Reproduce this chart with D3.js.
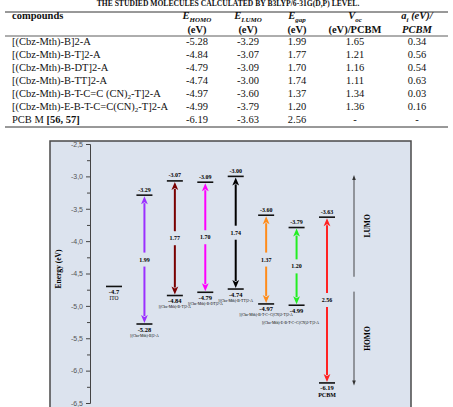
<!DOCTYPE html>
<html>
<head>
<meta charset="utf-8">
<script src="https://cdn.jsdelivr.net/npm/d3@7"></script>
<style>
  body { margin: 0; background: #fff; }
  svg { display: block; }
  .serif { font-family: "Liberation Serif", "DejaVu Serif", serif; }
</style>
</head>
<body>
<div class="wrap"></div>
<script>
// table rows
const tableNames = ['[(Cbz-Mth)-B]2-A', '[(Cbz-Mth)-B-T]2-A', '[(Cbz-Mth)-B-DT]2-A', '[(Cbz-Mth)-B-TT]2-A',
  '[(Cbz-Mth)-B-T-C=C (CN)|2|-T]2-A', '[(Cbz-Mth)-E-B-T-C=C(CN)|2|-T]2-A', 'PCB M']
const homo = [-5.28, -4.84, -4.79, -4.74, -4.97, -4.99, -6.19]
const lumo = [-3.29, -3.07, -3.09, -3.00, -3.60, -3.79, -3.63]
const gap = [1.99, 1.77, 1.70, 1.74, 1.37, 1.20, 2.56]
const voc = ['1.65', '1.21', '1.16', '1.11', '1.34', '1.36', '-']
const ai = ['0.34', '0.56', '0.54', '0.63', '0.03', '0.16', '-']

// chart
const chartNames = ['[(Cbz-Mth)-B]2-A', '[(Cbz-Mth)-B-T]2-A', '[(Cbz-Mth)-B-DT]2-A', '[(Cbz-Mth)-B-TT]2-A',
  '[(Cbz-Mth)-B-T-C=C(CN)2-T]2-A', '[(Cbz-Mth)-E-B-T-C=C(CN)2-T]2-A', 'PCBM']
const arrowColors = ['#9b30ff', '#7a0000', '#ff00ff', '#000000', '#ff8c1a', '#22ee22', '#ff2222']
const ito = -4.7
const yTicks = [-2.5, -3.0, -3.5, -4.0, -4.5, -5.0, -5.5, -6.0, -6.5]
const yMinor = [-2.75, -3.25, -3.75, -4.25, -4.75, -5.25, -5.75, -6.25]

const width = 453, height = 407

const svg = d3.select('.wrap').append('svg')
  .attr('width', width)
  .attr('height', height)

// ---------- table ----------
const tbl = svg.append('g').attr('class', 'serif').attr('fill', '#111')

tbl.append('text')
  .attr('x', 228).attr('y', 6)
  .attr('text-anchor', 'middle')
  .attr('font-size', 7.6).attr('font-weight', 'bold')
  .text('THE STUDIED MOLECULES CALCULATED BY B3LYP/6-31G(D,P) LEVEL.')

const rules = [12, 36, 127]
tbl.selectAll('.rule').data(rules).enter().append('line')
  .attr('x1', 5).attr('x2', 448)
  .attr('y1', d => d).attr('y2', d => d)
  .attr('stroke', '#333').attr('stroke-width', d => d == 36 ? 0.8 : 1)

const colX = [197, 248, 297, 355, 417]
const fs = 10.5

tbl.append('text').attr('x', 12).attr('y', 19)
  .attr('font-size', fs).attr('font-weight', 'bold').text('compounds')

const head = (x, main, sub, tail, line2, italic2) => {
  let t = tbl.append('text').attr('x', x).attr('y', 19).attr('text-anchor', 'middle')
    .attr('font-size', fs).attr('font-weight', 'bold').attr('font-style', 'italic')
  t.append('tspan').text(main)
  t.append('tspan').attr('font-size', 7).attr('dy', 2.5).text(sub)
  if (tail) t.append('tspan').attr('dy', -2.5).text(tail)
  tbl.append('text').attr('x', x).attr('y', 32.5).attr('text-anchor', 'middle')
    .attr('font-size', fs).attr('font-weight', 'bold')
    .attr('font-style', italic2 ? 'italic' : 'normal').text(line2)
}
head(colX[0], 'E', 'HOMO', null, '(eV)')
head(colX[1], 'E', 'LUMO', null, '(eV)')
head(colX[2], 'E', 'gap', null, '(eV)')
head(colX[3], 'V', 'oc', null, '(eV)/PCBM')
head(colX[4], 'a', 'i', ' (eV)/', 'PCBM', true)

const rowY = d3.scaleLinear().domain([0, 6]).range([44.5, 122.5])

tableNames.forEach((n, i) => {
  let t = tbl.append('text').attr('x', 12).attr('y', rowY(i)).attr('font-size', fs)
  n.split('|').forEach((part, k) => {
    if (k == 1) t.append('tspan').attr('font-size', 7).attr('dy', 2).text(part)
    else if (k == 2) t.append('tspan').attr('dy', -2).text(part)
    else t.append('tspan').text(part)
  })
  if (i == 6) t.append('tspan').attr('font-weight', 'bold').text(' [56, 57]')

  const cells = [homo[i].toFixed(2), lumo[i].toFixed(2), gap[i].toFixed(2), voc[i], ai[i]]
  cells.forEach((c, j) => {
    tbl.append('text').attr('x', colX[j]).attr('y', rowY(i))
      .attr('text-anchor', 'middle').attr('font-size', fs)
      .text(c)
  })
})

// ---------- chart ----------
const y = d3.scaleLinear().domain([-2.5, -6.5]).range([144, 403])
const x = d3.scalePoint().domain(['ITO'].concat(chartNames)).range([114, 327])

svg.append('rect')
  .attr('x', 50).attr('y', 141)
  .attr('width', 361).attr('height', 272)
  .attr('fill', '#dce3ee')
  .attr('stroke', '#4a4a4a').attr('stroke-width', 1.5)

const axisG = svg.append('g').attr('transform', 'translate(90,0)')
axisG.call(d3.axisLeft(y).tickValues(yTicks).tickSize(4)
  .tickFormat(d => d3.format('.1f')(d).replace('−', '-').replace('.', ',')))
axisG.selectAll('text').attr('font-family', 'Liberation Sans, Arial, sans-serif')
  .attr('font-size', 7).attr('fill', '#555')
axisG.selectAll('line').attr('stroke', '#444')
axisG.select('.domain').attr('stroke', '#444')

const minorG = svg.append('g').attr('transform', 'translate(90,0)')
minorG.call(d3.axisLeft(y).tickValues(yMinor).tickSize(3).tickFormat(''))
minorG.select('.domain').remove()
minorG.selectAll('line').attr('stroke', '#444')

svg.append('text').attr('class', 'serif')
  .attr('transform', 'translate(61,269) rotate(-90)')
  .attr('text-anchor', 'middle')
  .attr('font-size', 7.5).attr('font-weight', 'bold')
  .text('Energy (eV)')

const chart = svg.append('g').attr('class', 'serif')
const half = 8

// ITO level
chart.append('line')
  .attr('x1', x('ITO') - half).attr('x2', x('ITO') + half)
  .attr('y1', y(ito)).attr('y2', y(ito))
  .attr('stroke', '#111').attr('stroke-width', 1.6)
chart.append('text').attr('x', x('ITO')).attr('y', y(ito) + 8)
  .attr('text-anchor', 'middle').attr('font-size', 6.5).attr('font-weight', 'bold').text(ito.toFixed(1))
chart.append('text').attr('x', x('ITO')).attr('y', y(ito) + 14)
  .attr('text-anchor', 'middle').attr('font-size', 5.5).text('ITO')

const headLen = 8, headW = 3.4

chartNames.forEach((n, i) => {
  const cx = x(n)
  const top = y(lumo[i]), bot = y(homo[i])
  const mid = y((lumo[i] + homo[i]) / 2)
  const col = arrowColors[i]

  // level lines
  chart.selectAll(null).data([top, bot]).enter().append('line')
    .attr('x1', cx - half).attr('x2', cx + half)
    .attr('y1', d => d).attr('y2', d => d)
    .attr('stroke', '#111').attr('stroke-width', 1.6)

  // arrow shafts
  chart.append('line').attr('x1', cx).attr('x2', cx)
    .attr('y1', top + headLen).attr('y2', mid - 7)
    .attr('stroke', col).attr('stroke-width', 2)
  chart.append('line').attr('x1', cx).attr('x2', cx)
    .attr('y1', mid + 7).attr('y2', bot - headLen)
    .attr('stroke', col).attr('stroke-width', 2)

  // arrow heads
  chart.append('path')
    .attr('d', `M${cx},${top + 1}L${cx - headW},${top + headLen + 1}L${cx},${top + headLen - 1}L${cx + headW},${top + headLen + 1}Z`)
    .attr('fill', col)
  chart.append('path')
    .attr('d', `M${cx},${bot - 1}L${cx - headW},${bot - headLen - 1}L${cx},${bot - headLen + 1}L${cx + headW},${bot - headLen - 1}Z`)
    .attr('fill', col)

  // gap label
  chart.append('text').attr('x', cx).attr('y', mid + 2)
    .attr('text-anchor', 'middle').attr('font-size', 6).attr('font-weight', 'bold')
    .text(gap[i].toFixed(2))

  // lumo value
  chart.append('text').attr('x', cx).attr('y', top - 3.5)
    .attr('text-anchor', 'middle').attr('font-size', 6).attr('font-weight', 'bold')
    .text(lumo[i].toFixed(2))

  // homo value
  chart.append('text').attr('x', cx).attr('y', bot + 7.5)
    .attr('text-anchor', 'middle').attr('font-size', 6.5).attr('font-weight', 'bold')
    .text(homo[i].toFixed(2))

  // compound name
  const isPcbm = n == 'PCBM'
  chart.append('text').attr('x', cx - (i == 5 ? 6 : 0)).attr('y', bot + (isPcbm ? 14 : 12.5) + (i == 5 ? 6 : 0))
    .attr('text-anchor', 'middle')
    .attr('font-size', isPcbm ? 6 : 3.8).attr('font-weight', isPcbm ? 'bold' : 'normal')
    .text(n)
})

// LUMO / HOMO direction arrows
const dirX = 354
const dirs = [
  { label: 'LUMO', from: -4.55, to: -2.98 },
  { label: 'HOMO', from: -4.78, to: -6.23 }
]
dirs.forEach(d => {
  const y1 = y(d.from), y2 = y(d.to)
  const s = y2 < y1 ? 1 : -1
  chart.append('line').attr('x1', dirX).attr('x2', dirX)
    .attr('y1', y1).attr('y2', y2 + s * 4)
    .attr('stroke', '#333').attr('stroke-width', 0.9)
  chart.append('path')
    .attr('d', `M${dirX},${y2}L${dirX - 1.8},${y2 + s * 5}L${dirX + 1.8},${y2 + s * 5}Z`)
    .attr('fill', '#333')
  chart.append('text')
    .attr('transform', `translate(${dirX + 16},${(y1 + y2) / 2}) rotate(-90)`)
    .attr('text-anchor', 'middle').attr('font-size', 7.5).attr('font-weight', 'bold')
    .text(d.label)
})
</script>
</body>
</html>
